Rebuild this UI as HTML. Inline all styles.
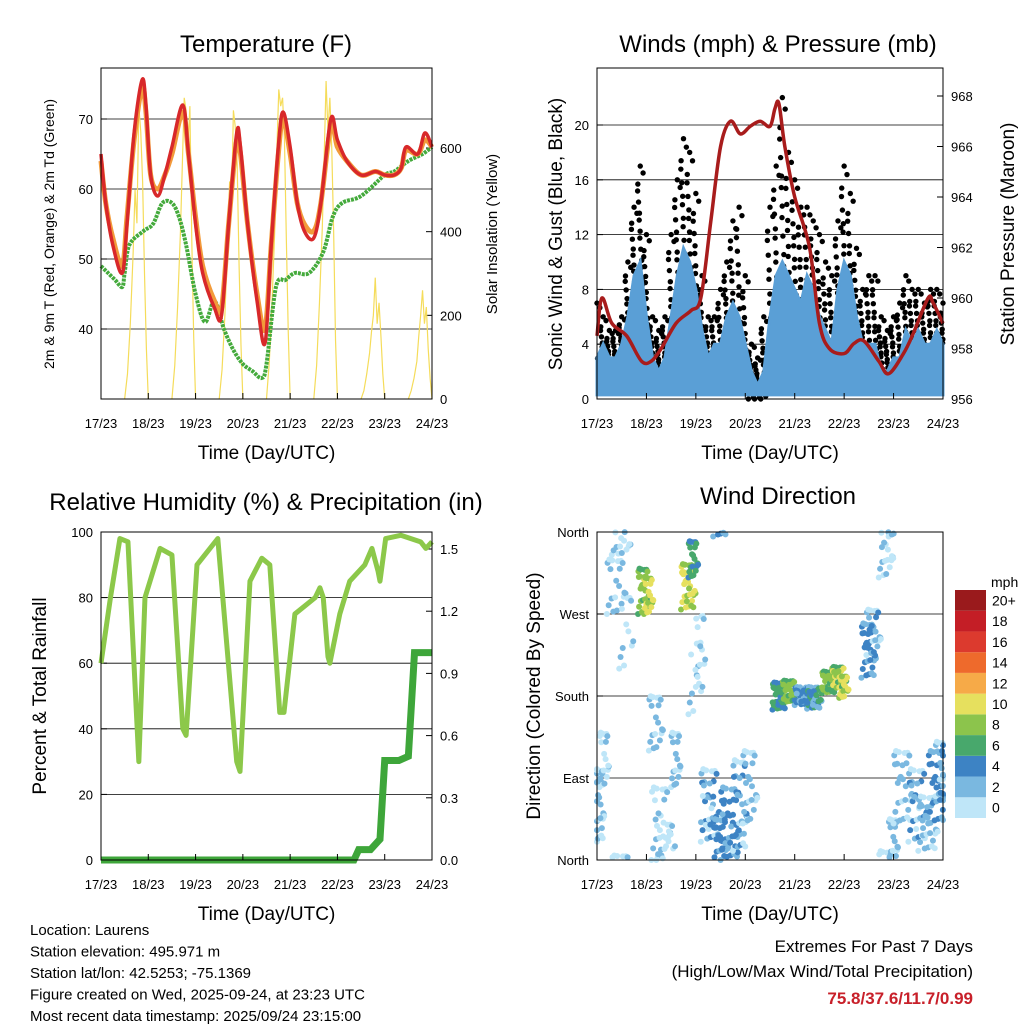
<!DOCTYPE html>
<html><head><meta charset="utf-8"><style>
body{margin:0;background:#fff;}
svg{display:block;font-family:"Liberation Sans",sans-serif;}
</style></head><body>
<svg id="c" width="1024" height="1024" viewBox="0 0 1024 1024"></svg>
<script>
// ---------------- DATA ----------------
const dayLabels=["17/23","18/23","19/23","20/23","21/23","22/23","23/23","24/23"];
const tempTimes=[0,0.1,0.25,0.45,0.55,0.7,0.87,0.95,1.05,1.2,1.35,1.5,1.73,1.85,2.0,2.15,2.4,2.55,2.7,2.87,2.95,3.1,3.3,3.47,3.6,3.75,3.85,4.0,4.15,4.3,4.5,4.65,4.86,5.0,5.2,5.5,5.8,6.0,6.2,6.35,6.45,6.7,6.85,7.0];
const temp2m=[65,58,52,48,55,68,75.6,72,62,59,62,66,72,65,55,48,43,42,55,68,66,55,44,38,52,66,71,66,58,54,53,58,70,67,64,62,62.5,62,62,63,66,65,68,66];
const temp9m=[64,58,53,49,56,67,74.5,71,62,60,62,65,71,65,56,49,44,43,55,67,65,55,45,40,52,65,70,65,58,55,54,58,69,66,64,62,62.5,62,62,63,65.5,65,67,66];
const tdTimes=[0,0.15,0.3,0.45,0.5,0.6,0.9,1.1,1.3,1.5,1.65,1.8,2.0,2.2,2.4,2.6,2.8,3.0,3.2,3.4,3.5,3.7,3.9,4.1,4.4,4.7,4.9,5.1,5.5,6.0,6.2,6.5,6.8,7.0];
const dewpoint=[49,48,47,46,48,52,54,55,58,58,56,52,45,41,44,40,37,35,34,33,35,46,47,48,48,51,56,58,59,62,62.5,64,65,66];
const solarFrac=[0.5,0.56,0.62,0.68,0.72,0.76,0.8,0.84,0.88,0.92,0.96,1.0];
const solarDays=[
 [0,60,180,350,500,420,700,640,520,300,120,0],
 [0,80,220,400,560,720,690,600,700,380,150,0],
 [0,70,200,380,520,460,690,650,560,320,130,0],
 [0,90,240,420,600,740,700,720,620,380,160,0],
 [0,80,230,410,580,760,640,720,600,400,140,0],
 [0,20,60,110,160,200,290,180,230,150,60,0],
 [0,20,50,90,150,200,260,180,220,120,50,0]];
const windHi=[3,4,3,3,4,6,9,10,6,3,2,3,6,9,11,10,8,5,3,4,4,6,7,6,4,2,1,2,6,9,10,9,8,7,9,8,6,5,4,8,10,9,6,4,4,4,2,2,3,3,5,4,5,4,4,5,4];
const gustHi=[7,6,5,5,6,10,14,17,12,6,5,6,12,16,19,18,15,9,6,6,8,10,13,14,9,4,3,6,14,17,22,18,16,14,14,13,12,10,9,13,17,15,11,8,9,9,6,5,6,7,9,8,8,7,8,8,7];
const gustLo=[1,1,1,1,2,3,6,8,4,1,1,1,3,6,8,7,5,2,1,1,1,3,3,3,1,0,0,0,2,5,7,5,5,4,4,4,3,2,2,4,6,5,3,2,2,2,1,1,1,1,2,2,2,2,2,2,2];
const presTimes=[0,0.1,0.3,0.6,0.9,1.1,1.3,1.6,1.9,2.1,2.3,2.5,2.7,2.9,3.1,3.3,3.5,3.6,3.68,3.8,4.0,4.3,4.5,4.7,5.0,5.2,5.4,5.7,5.9,6.2,6.4,6.7,6.8,7.0];
const pressure=[958.5,960,959,958.5,957.5,957.5,958,959,959.5,960,963,966,967,966.5,966.8,967,966.8,967.5,967.7,966,964,962,959,958,957.8,958.2,958.3,957.5,957,957.8,958.6,960,959.8,959];
const rhTimes=[0,0.2,0.4,0.57,0.8,0.93,1.25,1.5,1.73,1.8,2.03,2.47,2.87,2.94,3.15,3.4,3.57,3.78,3.87,4.1,4.53,4.63,4.7,4.8,4.84,5.05,5.26,5.58,5.73,5.86,5.9,6.02,6.34,6.76,6.87,7.0];
const rhValues=[60,80,98,97,30,80,95,93,40,38,90,98,30,27,85,92,90,45,45,75,80,83,80,62,60,75,85,90,95,88,85,98,99,97,95,97];
const precipTimes=[0,5.35,5.45,5.7,5.9,6.0,6.3,6.5,6.63,7.0];
const precipTotal=[0,0,0.05,0.05,0.1,0.48,0.48,0.5,1.0,1.0];
const cDay=[0.05,0.15,0.5,0.4,0.95,1.05,1.3,1.2,1.85,1.95,1.6,2.1,2.3,2.5,2.7,2.9,3.1,3.7,3.9,4.2,4.4,4.7,4.9,5.0,5.5,5.6,5.85,6.0,6.2,6.5,6.7,6.9,6.95,0.6,2.0,1.4];
const cDir=[60,110,350,300,295,290,40,150,300,330,110,230,60,20,40,60,80,180,185,180,178,195,200,190,230,250,340,20,80,60,40,80,100,250,200,20];
const cDirSpread=[40,30,15,30,25,20,40,30,25,20,30,40,40,25,40,50,40,15,12,10,12,12,12,12,30,25,30,25,40,40,30,40,30,40,40,20];
const cDaySpread=[0.1,0.1,0.2,0.2,0.12,0.1,0.2,0.15,0.15,0.1,0.1,0.1,0.2,0.15,0.2,0.15,0.15,0.15,0.15,0.2,0.15,0.15,0.15,0.1,0.15,0.15,0.15,0.1,0.2,0.2,0.2,0.2,0.1,0.15,0.15,0.2];
const cSpeed=[2,1,1,2,8,10,1,2,10,6,2,1,3,4,4,3,2,6,8,4,5,8,9,10,4,3,1,2,2,3,2,4,3,1,1,1];
const cCount=[28,20,20,20,30,20,24,20,34,22,20,14,40,28,40,30,24,36,30,44,36,36,32,18,30,24,24,20,30,34,28,30,20,12,12,14];
const speedBins=[0,2,4,6,8,10,12,14,16,18,20];
const speedColors=["#bfe6f8","#7ab8e0","#3d83c4","#48a86c","#8cc44c","#e6e05e","#f6aa48","#ee6a2c","#dc3a2e","#c41e26","#9a1a1c"];
const speedLabels=["0","2","4","6","8","10","12","14","16","18","20+"];

// ---------------- DRAW ----------------
const svg=document.getElementById('c');
const NS="http://www.w3.org/2000/svg";
function el(tag,attrs,parent,text){const e=document.createElementNS(NS,tag);for(const k in attrs)e.setAttribute(k,attrs[k]);if(text!==undefined)e.textContent=text;(parent||svg).appendChild(e);return e;}
function lin(d0,d1,r0,r1){return v=>r0+(v-d0)/(d1-d0)*(r1-r0);}
function pts(xs,ys,fx,fy){return xs.map((x,i)=>fx(x)+","+fy(ys[i])).join(" ");}
function smooth(xs,ys,fx,fy){const P=xs.map((x,i)=>[fx(x),fy(ys[i])]);let d="M"+P[0][0]+","+P[0][1];
 for(let i=0;i<P.length-1;i++){const p0=P[Math.max(0,i-1)],p1=P[i],p2=P[i+1],p3=P[Math.min(P.length-1,i+2)];
  const c1=[p1[0]+(p2[0]-p0[0])/6,p1[1]+(p2[1]-p0[1])/6],c2=[p2[0]-(p3[0]-p1[0])/6,p2[1]-(p3[1]-p1[1])/6];
  d+=` C${c1[0]},${c1[1]} ${c2[0]},${c2[1]} ${p2[0]},${p2[1]}`;}return d;}

function xAxis(g,fx,y0,y1,title){
  dayLabels.forEach((l,i)=>{const x=fx(i);
    const tk=el('line',{x1:x,x2:x,y1:y1,y2:y1-6,stroke:'#000','stroke-width':1},g);
    
    const t=el('text',{x:x,y:y1+29,'font-size':13,'text-anchor':'middle'},g,l);
    });
  const tt=el('text',{x:(fx(0)+fx(7))/2,y:y1+60,'font-size':19,'text-anchor':'middle'},g,title);
  
}
function yTicks(g,vals,fy,x,side,labels,grid,x2){
  vals.forEach((v,i)=>{const y=fy(v);
    if(grid){const gl=el('line',{x1:x,x2:x2,y1:y,y2:y,stroke:'#000','stroke-width':0.8},g);}
    const tk=el('line',{x1:x,x2:x+(side<0?6:-6),y1:y,y2:y,stroke:'#000'},g);
    const t=el('text',{x:side<0?x-8:x+8,y:y+5,'font-size':13,'text-anchor':side<0?'end':'start'},g,labels?labels[i]:String(v));
    });
}
function title(g,x,y,s){const t=el('text',{x:x,y:y,'font-size':24,'text-anchor':'middle'},g,s);}
function vtitle(g,x,y,s,fs){const t=el('text',{x:0,y:0,'font-size':fs,'text-anchor':'middle',transform:`translate(${x},${y}) rotate(-90)`},g,s);}
function frame(g,x0,y0,x1,y1){const r=el('rect',{x:x0,y:y0,width:x1-x0,height:y1-y0,fill:'none',stroke:'#000','stroke-width':1},g);}

// ===== Panel 1: Temperature =====
{const g=el('g',{});
 const X0=101,X1=432,Y0=68,Y1=399;
 const fx=lin(0,7,X0,X1), fy=lin(40,70,329,119), fs=lin(0,600,399,148);
 title(g,266,52,"Temperature (F)");
 yTicks(g,[40,50,60,70],fy,X0,-1,null,true,X1);
 yTicks(g,[0,200,400,600],fs,X1,1,null,false);
 solarDays.forEach((d,k)=>{const p=el('polyline',{points:pts(solarFrac.map(f=>f+k),d,fx,fs),fill:'none',stroke:'#f5dc5a','stroke-width':1.2},g);
   });
 const gp=el('path',{d:smooth(tdTimes,dewpoint,fx,fy),fill:'none',stroke:'#44aa3c','stroke-width':4,'stroke-dasharray':'3 1'},g);
 
 const op=el('path',{d:smooth(tempTimes,temp9m,fx,fy),fill:'none',stroke:'#f29a3a','stroke-width':5},g);
 
 const rp=el('path',{d:smooth(tempTimes,temp2m,fx,fy),fill:'none',stroke:'#d8282a','stroke-width':3.5},g);
 
 frame(g,X0,Y0,X1,Y1);
 xAxis(g,fx,Y0,Y1,"Time (Day/UTC)");
 vtitle(g,54,234,"2m & 9m T (Red, Orange) & 2m Td (Green)",14);
 vtitle(g,497,234,"Solar Insolation (Yellow)",15);
}
// ===== Panel 2: Winds =====
{const g=el('g',{});
 const X0=597,X1=943,Y0=68,Y1=399;
 const fx=lin(0,7,X0,X1), fy=lin(0,20,399,125), fp=lin(956,968,399,96);
 title(g,778,52,"Winds (mph) & Pressure (mb)");
 yTicks(g,[0,4,8,12,16,20],fy,X0,-1,null,true,X1);
 yTicks(g,[956,958,960,962,964,966,968],fp,X1,1,null,false);
 const n=gustHi.length, step=7/(n-1);
 gustHi.forEach((hi,i)=>{const lo=gustLo[i];
   for(let j=0;j<14;j++){const tt=i*step+((j*0.37)%1-0.5)*step; if(tt<0||tt>7)continue;
     const v=lo+(hi-lo)*(((j*0.618)%1)); const c=el('circle',{cx:fx(tt),cy:fy(v),r:2.7,fill:'#000'},g);
     }
   const top=el('circle',{cx:fx(i*step),cy:fy(hi),r:2.7,fill:'#000'},g);});
 const times=windHi.map((_,i)=>i*step);
 const area=el('polygon',{points:pts(times,windHi,fx,fy)+" "+fx(7)+","+fy(0.3)+" "+fx(0)+","+fy(0.3),fill:'#5a9fd6',stroke:'#5a9fd6','stroke-width':3},g);
 
 const pl=el('path',{d:smooth(presTimes,pressure,fx,fp),fill:'none',stroke:'#a81c1c','stroke-width':3.5},g);
 
 frame(g,X0,Y0,X1,Y1);
 xAxis(g,fx,Y0,Y1,"Time (Day/UTC)");
 vtitle(g,562,234,"Sonic Wind & Gust (Blue, Black)",19);
 vtitle(g,1014,234,"Station Pressure (Maroon)",19);
}
// ===== Panel 3: RH =====
{const g=el('g',{});
 const X0=101,X1=432,Y0=532,Y1=860;
 const fx=lin(0,7,X0,X1), fy=lin(0,100,860,532), fr=lin(0,1.5,860,549);
 title(g,266,510,"Relative Humidity (%) & Precipitation (in)");
 yTicks(g,[0,20,40,60,80,100],fy,X0,-1,null,true,X1);
 yTicks(g,[0,0.3,0.6,0.9,1.2,1.5],fr,X1,1,["0.0","0.3","0.6","0.9","1.2","1.5"],false);
 const rh=el('polyline',{points:pts(rhTimes,rhValues,fx,fy),fill:'none',stroke:'#8cc84a','stroke-width':5,'stroke-linejoin':'round'},g);
 
 const pr=el('polyline',{points:pts(precipTimes,precipTotal,fx,fr),fill:'none',stroke:'#3ea63a','stroke-width':7},g);
 
 frame(g,X0,Y0,X1,Y1);
 xAxis(g,fx,Y0,Y1,"Time (Day/UTC)");
 vtitle(g,46,696,"Percent & Total Rainfall",19);
}
// ===== Panel 4: Wind direction =====
{const g=el('g',{});
 const X0=597,X1=943,Y0=532,Y1=860;
 const fx=lin(0,7,X0,X1), fy=lin(0,360,860,532);
 title(g,778,504,"Wind Direction");
 yTicks(g,[0,90,180,270,360],fy,X0,-1,["North","East","South","West","North"],true,X1);
 function col(s){let k=0;speedBins.forEach((b,i)=>{if(s>=b)k=i;});return speedColors[k];}
 cDay.forEach((d,i)=>{for(let j=0;j<cCount[i];j++){
   const a=((j*0.618)%1)-0.5, b=((j*0.382+0.13*j*j%1)%1)-0.5;
   let dir=cDir[i]+b*2*cDirSpread[i]; dir=(dir+360)%360; const t=Math.min(7,Math.max(0,d+a*2*cDaySpread[i]));
   const sp=Math.max(0,cSpeed[i]+((j%3)-1)*1.2);
   const c=el('circle',{cx:fx(t),cy:fy(dir),r:3,fill:col(sp)},g);
   }});
 frame(g,X0,Y0,X1,Y1);
 xAxis(g,fx,Y0,Y1,"Time (Day/UTC)");
 vtitle(g,540,696,"Direction (Colored By Speed)",19);
 const cb=el('g',{},g);
 const m=el('text',{x:991,y:587,'font-size':14},cb,"mph");
 const h=228/11;
 speedColors.forEach((c,i)=>{const y=818-(i+1)*h;
   const r=el('rect',{x:955,y:y,width:31,height:h,fill:c},cb);
   const t=el('text',{x:992,y:y+h/2+5,'font-size':14},cb,speedLabels[i]);});
}
// ===== Footer =====
{const g=el('g',{});
 ["Location: Laurens","Station elevation: 495.971 m","Station lat/lon: 42.5253; -75.1369","Figure created on Wed, 2025-09-24, at 23:23 UTC","Most recent data timestamp: 2025/09/24 23:15:00"].forEach((s,i)=>{
  const t=el('text',{x:30,y:935+i*21.5,'font-size':15},g,s);});
 const g2=el('g',{});
 const a=el('text',{x:973,y:952,'font-size':17,'text-anchor':'end'},g2,"Extremes For Past 7 Days");
 const b=el('text',{x:973,y:977,'font-size':17,'text-anchor':'end'},g2,"(High/Low/Max Wind/Total Precipitation)");
 const c=el('text',{x:973,y:1004,'font-size':17,'text-anchor':'end','font-weight':'bold',fill:'#c8202a'},g2,"75.8/37.6/11.7/0.99");
}
</script>
</body></html>
